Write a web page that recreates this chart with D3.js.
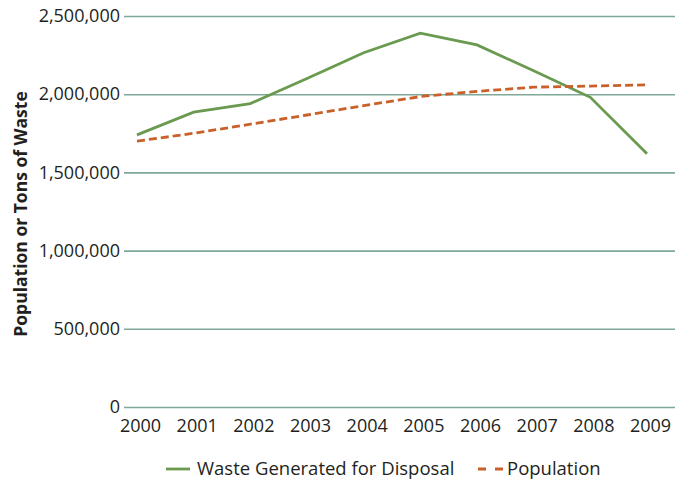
<!DOCTYPE html>
<html>
<head>
<meta charset="utf-8">
<script src="https://cdn.jsdelivr.net/npm/d3@7"></script>
<style>
  body { margin: 0; background: #fff; }
  text { font-family: "Open Sans", sans-serif; fill: #231f20; }
</style>
</head>
<body>
<div id="chart"></div>
<script>
// data
const years = ["2000", "2001", "2002", "2003", "2004", "2005", "2006", "2007", "2008", "2009"]
const waste = [1740000, 1885000, 1940000, 2100000, 2265000, 2390000, 2315000, 2150000, 1980000, 1620000]
const population = [1700000, 1750000, 1808000, 1867000, 1927000, 1985000, 2018000, 2045000, 2052000, 2060000]
const yTicks = [0, 500000, 1000000, 1500000, 2000000, 2500000]

const W = 679, H = 480
const plotLeft = 124, plotRight = 675, plotTop = 16, plotBottom = 407

const svg = d3.select("#chart").append("svg")
    .attr("width", W)
    .attr("height", H)

const x = d3.scalePoint()
    .domain(years)
    .range([137, 647])

const y = d3.scaleLinear()
    .domain([0, 2500000])
    .range([plotBottom, plotTop])

// gridlines + y labels
const yAxis = d3.axisLeft(y)
    .tickValues(yTicks)
    .tickSize(-(plotRight - plotLeft))
    .tickPadding(4)
    .tickFormat(d3.format(","))

svg.append("g")
    .attr("transform", `translate(${plotLeft},0)`)
    .call(yAxis)
    .call(g => g.select(".domain").remove())
    .call(g => g.selectAll("line").attr("stroke", "#7fa898").attr("stroke-width", 1.6))
    .call(g => g.selectAll("text").style("font-size", "18px").attr("fill", "#231f20"))

// x labels
const xAxis = d3.axisBottom(x).tickSize(0).tickPadding(12)
svg.append("g")
    .attr("transform", `translate(3,${plotBottom})`)
    .call(xAxis)
    .call(g => g.select(".domain").remove())
    .call(g => g.selectAll("text").style("font-size", "18px").attr("fill", "#231f20"))

// y axis title
svg.append("text")
    .attr("transform", "translate(27,214) rotate(-90)")
    .attr("text-anchor", "middle")
    .style("font-size", "17.5px")
    .style("font-weight", "bold")
    .text("Population or Tons of Waste")

const line = d3.line()
    .x((d, i) => x(years[i]))
    .y(d => y(d))

svg.append("path")
    .datum(waste)
    .attr("d", line)
    .attr("fill", "none")
    .attr("stroke", "#6a9a4f")
    .attr("stroke-width", 2.8)

svg.append("path")
    .datum(population)
    .attr("d", line)
    .attr("fill", "none")
    .attr("stroke", "#c9602a")
    .attr("stroke-width", 2.8)
    .attr("stroke-dasharray", "8,4")

// legend
const legend = svg.append("g").attr("transform", "translate(0,469)")
legend.append("line")
    .attr("x1", 166).attr("x2", 190).attr("y1", 0).attr("y2", 0)
    .attr("stroke", "#6a9a4f").attr("stroke-width", 2.8)
legend.append("text")
    .attr("x", 197).attr("y", 0).attr("dy", "0.35em")
    .style("font-size", "18.5px")
    .text("Waste Generated for Disposal")
legend.append("line")
    .attr("x1", 478).attr("x2", 503).attr("y1", 0).attr("y2", 0)
    .attr("stroke", "#c9602a").attr("stroke-width", 2.8)
    .attr("stroke-dasharray", "8,9")
legend.append("text")
    .attr("x", 507).attr("y", 0).attr("dy", "0.35em")
    .style("font-size", "18.5px")
    .text("Population")
</script>
</body>
</html>
